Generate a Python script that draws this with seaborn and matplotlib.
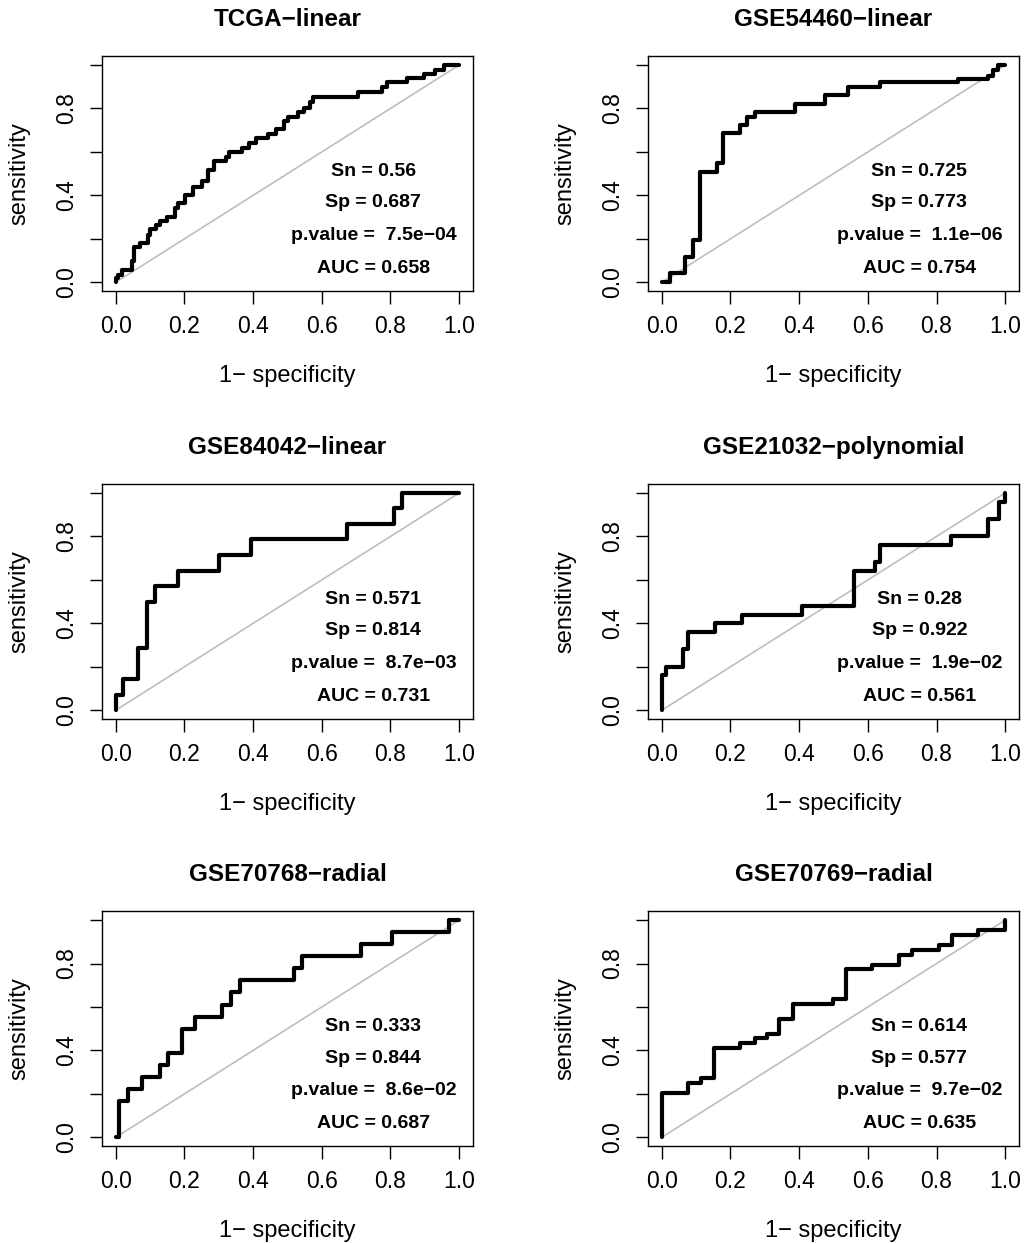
#!/usr/bin/env python3
import seaborn as sns
from matplotlib import pyplot as plt
import numpy as np

# panel titles and stats text
titles = ["TCGA−linear", "GSE54460−linear", "GSE84042−linear",
          "GSE21032−polynomial", "GSE70768−radial", "GSE70769−radial"]
sn_vals = ["0.56", "0.725", "0.571", "0.28", "0.333", "0.614"]
sp_vals = ["0.687", "0.773", "0.814", "0.922", "0.844", "0.577"]
p_vals = ["7.5e−04", "1.1e−06", "8.7e−03", "1.9e−02", "8.6e−02", "9.7e−02"]
auc_vals = ["0.658", "0.754", "0.731", "0.561", "0.687", "0.635"]

# ROC staircases: each point = (1-specificity at end of a flat run, sensitivity level)
tcga_fpr = [0, 0.008, 0.018, 0.047, 0.054, 0.071, 0.093, 0.100, 0.116, 0.129, 0.148,
            0.173, 0.182, 0.202, 0.226, 0.252, 0.270, 0.287, 0.320, 0.330, 0.369,
            0.388, 0.407, 0.444, 0.466, 0.491, 0.502, 0.530, 0.549, 0.566, 0.575,
            0.704, 0.774, 0.790, 0.848, 0.898, 0.931, 0.956, 1.0]
tcga_tpr = [0, 0.018, 0.034, 0.057, 0.098, 0.164, 0.179, 0.218, 0.245, 0.264, 0.284,
            0.302, 0.340, 0.363, 0.402, 0.440, 0.466, 0.517, 0.558, 0.578, 0.598,
            0.617, 0.640, 0.663, 0.681, 0.706, 0.742, 0.761, 0.782, 0.804, 0.831,
            0.854, 0.877, 0.897, 0.920, 0.939, 0.959, 0.979, 1.0]

g54460_fpr = [0, 0.024, 0.068, 0.090, 0.111, 0.160, 0.179, 0.228, 0.249, 0.271,
              0.387, 0.474, 0.542, 0.634, 0.862, 0.949, 0.963, 0.978, 1.0]
g54460_tpr = [0, 0.003, 0.041, 0.118, 0.195, 0.509, 0.548, 0.686, 0.724, 0.762,
              0.782, 0.821, 0.862, 0.897, 0.923, 0.936, 0.951, 0.977, 1.0]

g84042_fpr = [0, 0.022, 0.066, 0.092, 0.115, 0.182, 0.301, 0.393, 0.672, 0.811, 0.834, 1.0]
g84042_tpr = [0, 0.071, 0.143, 0.286, 0.500, 0.571, 0.643, 0.714, 0.786, 0.857, 0.929, 1.0]

g21032_fpr = [0, 0.013, 0.061, 0.077, 0.155, 0.235, 0.407, 0.559, 0.622, 0.636,
              0.842, 0.949, 0.983, 1.0, 1.0]
g21032_tpr = [0, 0.16, 0.20, 0.28, 0.36, 0.40, 0.44, 0.48, 0.64, 0.68,
              0.76, 0.80, 0.88, 0.96, 1.0]

g70768_fpr = [0, 0.010, 0.037, 0.076, 0.129, 0.153, 0.194, 0.231, 0.310, 0.336,
              0.362, 0.520, 0.543, 0.713, 0.803, 0.971, 1.0]
g70768_tpr = [0, 0.0, 0.167, 0.222, 0.278, 0.333, 0.389, 0.500, 0.556, 0.611,
              0.667, 0.722, 0.778, 0.833, 0.889, 0.944, 1.0]

g70769_fpr = [0, 0.077, 0.114, 0.152, 0.229, 0.271, 0.307, 0.342, 0.382, 0.499,
              0.537, 0.613, 0.690, 0.729, 0.806, 0.845, 0.920, 1.0, 1.0]
g70769_tpr = [0, 0.205, 0.250, 0.273, 0.409, 0.432, 0.455, 0.477, 0.545, 0.614,
              0.636, 0.773, 0.795, 0.841, 0.864, 0.886, 0.932, 0.955, 1.0]

curves = [(tcga_fpr, tcga_tpr), (g54460_fpr, g54460_tpr), (g84042_fpr, g84042_tpr),
          (g21032_fpr, g21032_tpr), (g70768_fpr, g70768_tpr), (g70769_fpr, g70769_tpr)]

sns.set_style("white")
plt.rcParams['font.family'] = ['Liberation Sans', 'DejaVu Sans']
plt.rcParams.update({
    'axes.linewidth': 1.0,
    'text.color': 'black',
    'axes.labelcolor': 'black',
    'xtick.color': 'black',
    'ytick.color': 'black',
    'axes.edgecolor': 'black',
})

fig = plt.figure(figsize=(10.27, 12.43), dpi=100)

lefts = [0.0993, 0.631]
bottoms = [0.7659, 0.4216, 0.0780]
w, h = 0.3612, 0.1888

for i, (fpr, tpr) in enumerate(curves):
    ax = fig.add_axes([lefts[i % 2], bottoms[i // 2], w, h])
    # chance line
    sns.lineplot(x=[0, 1], y=[0, 1], ax=ax, color="#BEBEBE", linewidth=1.2)
    sns.lineplot(x=fpr, y=tpr, ax=ax, sort=False, estimator=None,
                 color="black", linewidth=3, drawstyle="steps-pre")
    ax.set_xlim(-0.04, 1.04)
    ax.set_ylim(-0.04, 1.04)
    ax.set_xticks(np.arange(0, 1.01, 0.2))
    ax.set_xticklabels(["0.0", "0.2", "0.4", "0.6", "0.8", "1.0"])
    ax.set_yticks(np.arange(0, 1.01, 0.2))
    ax.set_yticklabels(["0.0", "", "0.4", "", "0.8", ""], rotation=90, va="center")
    ax.tick_params(axis="both", direction="out", length=9, width=1.0,
                   labelsize=16.5, pad=8, colors="black", bottom=True, left=True)
    ax.set_xlabel("1− specificity", fontsize=17, labelpad=20)
    ax.set_ylabel("sensitivity", fontsize=17, labelpad=18)
    ax.set_title(titles[i], fontsize=17.5, fontweight="bold", pad=22)

    ys = [0.51, 0.365, 0.215, 0.065]
    lines = ["Sn = " + sn_vals[i], "Sp = " + sp_vals[i],
             "p.value =  " + p_vals[i], "AUC = " + auc_vals[i]]
    for yy, txt in zip(ys, lines):
        ax.text(0.75, yy, txt, ha="center", va="center", fontsize=14, fontweight="bold")

fig.savefig("out.png", dpi=100)
